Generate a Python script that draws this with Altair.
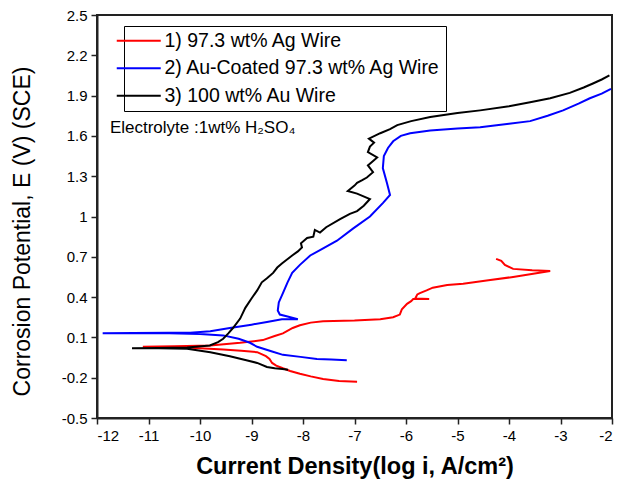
import altair as alt
import pandas as pd

# ---- data ----
series_names = ["1) 97.3 wt% Ag Wire", "2) Au-Coated 97.3 wt% Ag Wire", "3) 100 wt% Au Wire"]
series_colors = ["#ff0000", "#0000ff", "#000000"]

ag_x = [-6.95, -7.3, -7.61, -7.85, -8.06, -8.25, -8.39, -8.52, -8.60, -8.65, -8.72, -8.89, -9.2, -9.55,
        -10.0, -10.5, -11.11,
        -10.5, -9.8, -9.22, -8.78, -8.55, -8.39, -8.2, -8.06, -7.85, -7.61, -7.0, -6.5, -6.25, -6.12,
        -6.10, -6.08, -5.98, -5.90, -5.86, -5.55, -5.82, -5.78, -5.73, -5.6, -5.48, -5.2, -4.89, -4.4,
        -3.92, -3.5, -3.20, -3.55, -3.92, -4.08, -4.15, -4.25]
ag_y = [-0.23, -0.225, -0.21, -0.19, -0.17, -0.15, -0.13, -0.11, -0.09, -0.06, -0.04, -0.01, 0.0, 0.01,
        0.02, 0.03, 0.03,
        0.035, 0.04, 0.06, 0.08, 0.11, 0.13, 0.17, 0.19, 0.21, 0.22, 0.225, 0.235, 0.25, 0.27,
        0.29, 0.31, 0.35, 0.37, 0.385, 0.385, 0.39, 0.42, 0.43, 0.45, 0.47, 0.49, 0.50, 0.525,
        0.55, 0.575, 0.595, 0.60, 0.61, 0.64, 0.67, 0.685]

coat_x = [-7.15, -7.45, -7.73, -8.05, -8.39, -8.6, -8.89, -9.03, -9.25, -9.55, -10.0, -10.6, -11.3, -11.89,
          -11.3, -10.6, -10.19, -9.8, -9.42, -9.0, -8.70, -8.41, -8.25, -8.10, -8.30, -8.45, -8.49, -8.47,
          -8.39, -8.30, -8.21, -8.06, -7.86, -7.67, -7.34, -7.03, -6.70, -6.45, -6.31, -6.37, -6.45, -6.43,
          -6.35, -6.25, -6.1, -5.92, -5.53, -5.0, -4.56, -4.0, -3.59, -3.25, -2.95, -2.65, -2.43, -2.2, -2.02]
coat_y = [-0.07, -0.065, -0.06, -0.045, -0.03, -0.005, 0.03, 0.06, 0.09, 0.115, 0.125, 0.13, 0.13, 0.13,
          0.133, 0.135, 0.135, 0.145, 0.17, 0.195, 0.215, 0.235, 0.235, 0.235, 0.255, 0.27, 0.30, 0.36,
          0.43, 0.51, 0.58, 0.64, 0.71, 0.75, 0.82, 0.91, 1.00, 1.10, 1.16, 1.25, 1.36, 1.45,
          1.51, 1.56, 1.60, 1.62, 1.64, 1.655, 1.665, 1.69, 1.71, 1.75, 1.79, 1.84, 1.88, 1.915, 1.95]

au_x = [-8.29, -8.40, -8.55, -8.70, -8.89, -9.1, -9.42, -9.8, -10.25, -10.8, -11.32,
        -10.8, -10.25, -9.81, -9.65, -9.55, -9.45, -9.36, -9.22, -9.12, -9.0, -8.89, -8.80, -8.70, -8.58,
        -8.50, -8.41, -8.21, -8.10, -8.02, -8.04, -7.92, -7.80, -7.77, -7.67, -7.55, -7.28, -7.09, -6.95,
        -6.82, -6.70, -6.95, -7.13, -7.0, -6.95, -6.85, -6.76, -6.64, -6.74, -6.65, -6.56, -6.74, -6.70,
        -6.62, -6.72, -6.50, -6.31, -6.17, -5.9, -5.53, -5.0, -4.56, -4.0, -3.59, -3.2, -2.82, -2.55,
        -2.37, -2.2, -2.05]
au_y = [-0.14, -0.135, -0.13, -0.12, -0.09, -0.07, -0.04, -0.01, 0.015, 0.02, 0.02,
        0.022, 0.025, 0.04, 0.065, 0.09, 0.13, 0.17, 0.24, 0.32, 0.39, 0.45, 0.51, 0.54, 0.58,
        0.62, 0.65, 0.71, 0.74, 0.77, 0.80, 0.84, 0.85, 0.90, 0.88, 0.92, 0.98, 1.02, 1.04,
        1.08, 1.13, 1.17, 1.19, 1.23, 1.25, 1.27, 1.29, 1.33, 1.38, 1.41, 1.44, 1.48, 1.52,
        1.55, 1.58, 1.62, 1.65, 1.68, 1.71, 1.74, 1.77, 1.79, 1.82, 1.85, 1.88, 1.92, 1.96,
        1.99, 2.02, 2.05]

x_ticks = [-12, -11, -10, -9, -8, -7, -6, -5, -4, -3, -2]
y_ticks = [-0.5, -0.2, 0.1, 0.4, 0.7, 1, 1.3, 1.6, 1.9, 2.2, 2.5]

note_text = ["Electrolyte :1wt% H₂SO₄"]
note_x = [-11.75]
note_y = [1.66]

# ---- build table ----
rows = []
for name, xs, ys in zip(series_names, [ag_x, coat_x, au_x], [ag_y, coat_y, au_y]):
    for i, (xv, yv) in enumerate(zip(xs, ys)):
        rows.append({"series": name, "idx": i, "x": xv, "y": yv})
df = pd.DataFrame(rows)
note_df = pd.DataFrame({"text": note_text, "x": note_x, "y": note_y})

FONT = "Liberation Sans"
minus_fix = "replace(datum.label, '−', '-')"

xscale = alt.Scale(domain=[-12, -2], nice=False, zero=False)
yscale = alt.Scale(domain=[-0.5, 2.5], nice=False, zero=False)

lines = alt.Chart(df).mark_line(strokeWidth=2).encode(
    x=alt.X("x:Q", scale=xscale,
            axis=alt.Axis(values=x_ticks, title="Current Density(log i, A/cm²)",
                          labelExpr=minus_fix, format="~g",
                          titleFontWeight="bold", titleFontSize=23.5, titlePadding=11)),
    y=alt.Y("y:Q", scale=yscale,
            axis=alt.Axis(values=y_ticks, title="Corrosion Potential, E (V) (SCE)",
                          labelExpr=minus_fix, format="~g",
                          titleFontWeight="normal", titleFontSize=23,
                          titleX=-63, titleY=216)),
    color=alt.Color("series:N",
                    scale=alt.Scale(domain=series_names, range=series_colors),
                    sort=series_names,
                    legend=alt.Legend(title=None, orient="none", legendX=27, legendY=11,
                                      symbolType="M-4.4,0H4.4", symbolSize=100,
                                      symbolStrokeWidth=2, labelOffset=16,
                                      labelFontSize=19.5, labelFont=FONT, labelColor="#000",
                                      strokeColor="#000", padding=5, rowPadding=6.5,
                                      labelLimit=400)),
    order="idx:Q",
)

note = alt.Chart(note_df).mark_text(align="left", baseline="middle", fontSize=17,
                                    font=FONT, color="#000").encode(
    x=alt.X("x:Q", scale=xscale), y=alt.Y("y:Q", scale=yscale), text="text:N")

chart = alt.layer(lines, note).properties(
    width=515, height=403,
    autosize=alt.AutoSizeParams(type="none"),
    padding={"left": 89, "top": 7, "right": 12, "bottom": 66},
).configure_view(stroke="#222", strokeWidth=2).configure_axis(
    grid=False, domainColor="#222", domainWidth=2, tickColor="#222", tickWidth=1.5,
    tickSize=6, labelFont=FONT, titleFont=FONT, labelFontSize=15, labelColor="#000",
    titleColor="#000", labelPadding=4,
)

chart.save("out.html", embed_options={"renderer": "svg", "actions": False})
